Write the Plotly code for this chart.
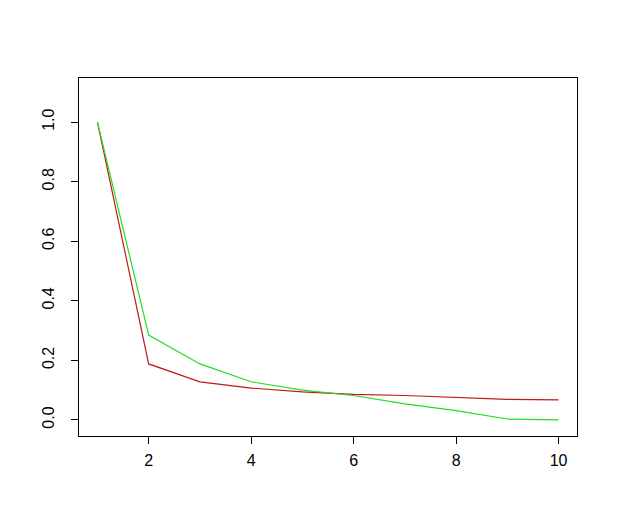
import plotly.graph_objects as go

x_vals = [1, 2, 3, 4, 5, 6, 7, 8, 9, 10]
red_vals = [1.0, 0.188, 0.128, 0.107, 0.094, 0.086, 0.082, 0.076, 0.069, 0.067]
green_vals = [1.0, 0.285, 0.188, 0.128, 0.100, 0.082, 0.054, 0.031, 0.003, 0.0]
x_ticks = [2, 4, 6, 8, 10]
y_ticks = [0.0, 0.2, 0.4, 0.6, 0.8, 1.0]
y_tick_text = ["0.0", "0.2", "0.4", "0.6", "0.8", "1.0"]

fig = go.Figure()
fig.add_trace(go.Scatter(x=x_vals, y=red_vals, mode="lines",
                         line=dict(color="#C01818", width=1.2), showlegend=False))
fig.add_trace(go.Scatter(x=x_vals, y=green_vals, mode="lines",
                         line=dict(color="#22DD22", width=1.2), showlegend=False))

font = dict(family="Liberation Sans, Arial, sans-serif", size=16, color="black")
fig.update_layout(
    width=609, height=524,
    margin=dict(l=71, r=40, t=70, b=96),
    paper_bgcolor="white", plot_bgcolor="white",
    font=font,
    xaxis=dict(range=[0.64, 10.36], tickvals=x_ticks, ticks="outside", ticklen=7,
               tickcolor="black", showgrid=False, zeroline=False,
               showline=True, linecolor="black", linewidth=1, mirror=True,
               tickfont=font, ticklabelstandoff=3),
    yaxis=dict(range=[-0.054, 1.148], tickvals=y_ticks, ticktext=y_tick_text,
               ticks="outside", ticklen=7, tickcolor="black", tickangle=-90,
               showgrid=False, zeroline=False,
               showline=True, linecolor="black", linewidth=1, mirror=True,
               tickfont=font, ticklabelstandoff=11),
)
fig.write_html("out.html")
